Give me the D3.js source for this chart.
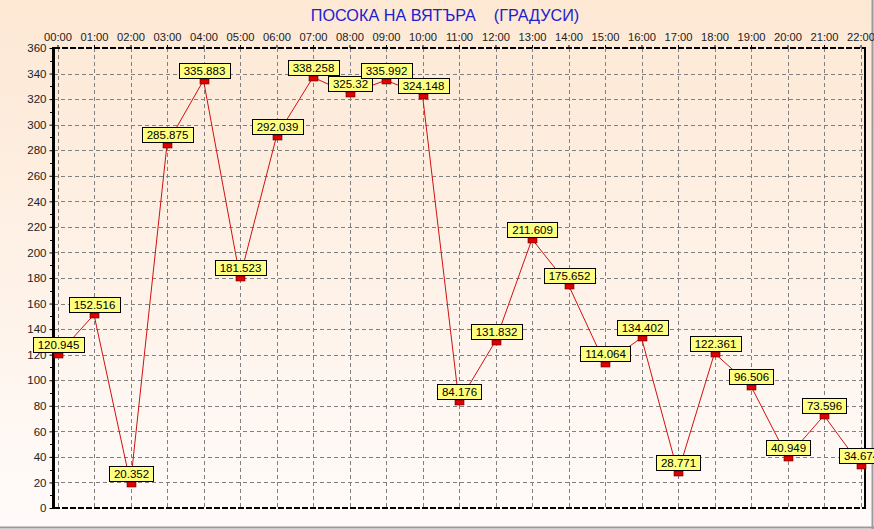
<!DOCTYPE html>
<html><head><meta charset="utf-8">
<script src="https://cdn.jsdelivr.net/npm/d3@7"></script>
<style>html,body{margin:0;padding:0;background:#fff;}svg{display:block;}</style>
</head><body>
<script>
const hours = ["00:00","01:00","02:00","03:00","04:00","05:00","06:00","07:00","08:00","09:00","10:00","11:00","12:00","13:00","14:00","15:00","16:00","17:00","18:00","19:00","20:00","21:00","22:00"];
const direction = [120.945,152.516,20.352,285.875,335.883,181.523,292.039,338.258,325.32,335.992,324.148,84.176,131.832,211.609,175.652,114.064,134.402,28.771,122.361,96.506,40.949,73.596,34.674];
const yTicks = [0,20,40,60,80,100,120,140,160,180,200,220,240,260,280,300,320,340,360];
const title = "ПОСОКА НА ВЯТЪРА    (ГРАДУСИ)";

(function(){
const W = 874, H = 529;
const FONT = "Liberation Sans, Arial, sans-serif";
const svg = d3.select("body").append("svg").attr("width", W).attr("height", H);
const defs = svg.append("defs");
const grad = defs.append("linearGradient").attr("id","bg").attr("x1",0).attr("y1",0).attr("x2",0).attr("y2",1);
grad.append("stop").attr("offset","0%").attr("stop-color","#fde8d4");
grad.append("stop").attr("offset","100%").attr("stop-color","#fffbfa");
svg.append("rect").attr("width",W).attr("height",H).attr("fill","url(#bg)");
svg.append("line").attr("x1",0).attr("x2",W).attr("y1",527.5).attr("y2",527.5).attr("stroke","#9a9a9a").attr("stroke-width",2);
svg.append("line").attr("x1",872.5).attr("x2",872.5).attr("y1",0).attr("y2",H).attr("stroke","#9a9a9a").attr("stroke-width",2);

const pL = 54, pR = 865, pT = 48, pB = 508;
const x = d3.scalePoint().domain(hours).range([57.5, 860.5]);
const y = d3.scaleLinear().domain([0,360]).range([pB, pT]);

svg.append("text").attr("x", 445).attr("y", 21).attr("text-anchor","middle")
  .attr("font-family",FONT).attr("font-size",16.2)
  .attr("fill","#2020d0").style("white-space","pre").text(title);

const g = svg.append("g");
g.selectAll("line.hg").data(yTicks.filter(d=>d>0&&d<360)).enter().append("line")
  .attr("x1",pL).attr("x2",pR).attr("y1",d=>Math.round(y(d))+0.5).attr("y2",d=>Math.round(y(d))+0.5)
  .attr("stroke","#808080").attr("stroke-dasharray","4,3");
g.selectAll("line.vg").data(hours).enter().append("line")
  .attr("x1",d=>Math.round(x(d))+0.5).attr("x2",d=>Math.round(x(d))+0.5).attr("y1",pT).attr("y2",pB)
  .attr("stroke","#808080").attr("stroke-dasharray","4,3");

g.append("line").attr("x1",pL).attr("x2",pR).attr("y1",pT).attr("y2",pT).attr("stroke","#000").attr("stroke-width",2).attr("stroke-dasharray","6,2");
g.append("line").attr("x1",pL).attr("x2",pR).attr("y1",pB).attr("y2",pB).attr("stroke","#000").attr("stroke-width",2).attr("stroke-dasharray","6,2");
g.append("line").attr("x1",pR).attr("x2",pR).attr("y1",pT-1).attr("y2",pB+1).attr("stroke","#000").attr("stroke-width",2);

const yAxis = d3.axisLeft(y).tickValues(yTicks).tickSize(4).tickPadding(3);
const ya = svg.append("g").attr("transform",`translate(${pL-0.5},0)`).call(yAxis);
ya.select(".domain").attr("stroke","#000").attr("stroke-width",3).attr("d",`M0,${pT-1}V${pB+1}`);
ya.selectAll("text").attr("font-family",FONT).attr("font-size",11.5).attr("fill","#222");
const minor = d3.range(10,360,20);
svg.append("g").selectAll("line").data(minor).enter().append("line")
  .attr("x1",pL-4).attr("x2",pL-1).attr("y1",d=>Math.round(y(d))+0.5).attr("y2",d=>Math.round(y(d))+0.5).attr("stroke","#000");

const xAxis = d3.axisTop(x).tickSize(3).tickPadding(4);
const xa = svg.append("g").attr("transform",`translate(0,${pT})`).call(xAxis);
xa.select(".domain").remove();
xa.selectAll("text").attr("font-family",FONT).attr("font-size",11.2).attr("fill","#222");

const line = d3.line().x((d,i)=>x(hours[i])).y(d=>y(d)+1.5);
svg.append("path").datum(direction).attr("d",line).attr("fill","none").attr("stroke","#d01010").attr("stroke-width",1);

svg.selectAll("rect.mk").data(direction).enter().append("rect")
  .attr("x",(d,i)=>Math.round(x(hours[i]))-4).attr("y",d=>Math.round(y(d))).attr("width",9).attr("height",5)
  .attr("fill","#e00000").attr("stroke","#600000").attr("stroke-width",0.6);

const lbl = svg.append("g").selectAll("g").data(direction).enter().append("g");
lbl.each(function(d,i){
  const gg = d3.select(this);
  const txt = String(d);
  const t = gg.append("text").attr("font-family",FONT).attr("font-size",11.5).attr("fill","#000").text(txt);
  const w = t.node().getComputedTextLength() + 9;
  const cx = Math.round(x(hours[i])), by = Math.round(y(d));
  gg.insert("rect","text").attr("x",Math.round(cx - w/2) + 0.5).attr("y",by-15.5).attr("width",Math.round(w)).attr("height",15)
    .attr("fill","#ffff80").attr("stroke","#000").attr("stroke-width",1);
  t.attr("x",cx+0.5).attr("y",by-3.8).attr("text-anchor","middle");
});
})();
</script>
</body></html>
